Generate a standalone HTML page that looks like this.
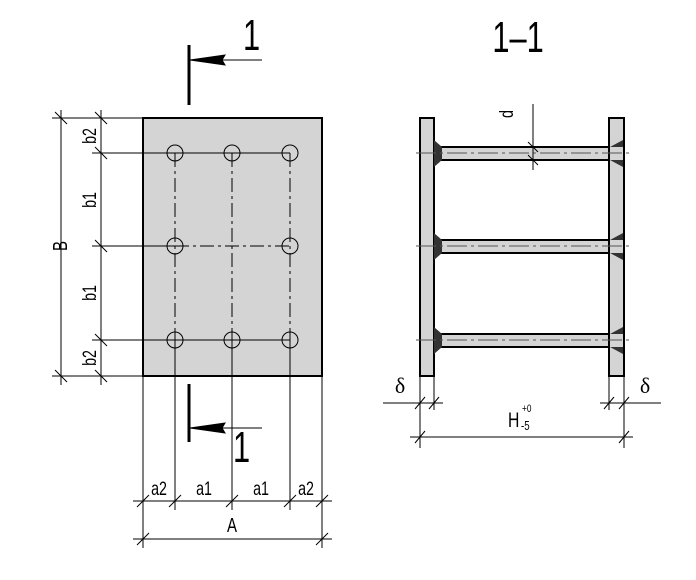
<!DOCTYPE html>
<html><head><style>body{margin:0;background:#fff}svg{display:block}</style></head><body>
<svg width="696" height="580" viewBox="0 0 696 580" xmlns="http://www.w3.org/2000/svg" font-family="Liberation Sans, sans-serif">
<g stroke="#000" fill="none" stroke-width="1">
<rect x="143" y="118" width="179" height="258" fill="#d4d4d4" stroke-width="2"/>
<line x1="92" y1="153" x2="290" y2="153"/>
<line x1="92" y1="246" x2="175" y2="246"/>
<line x1="175" y1="246" x2="290" y2="246" stroke-dasharray="14,4,3,4"/>
<line x1="92" y1="340" x2="290" y2="340"/>
<line x1="175" y1="153" x2="175" y2="340" stroke-dasharray="14,4,3,4"/>
<line x1="232" y1="153" x2="232" y2="340" stroke-dasharray="14,4,3,4"/>
<line x1="290" y1="153" x2="290" y2="340" stroke-dasharray="14,4,3,4"/>
<circle cx="175" cy="153" r="8"/><circle cx="232" cy="153" r="8"/><circle cx="290" cy="153" r="8"/>
<circle cx="175" cy="246" r="8"/><circle cx="290" cy="246" r="8"/>
<circle cx="175" cy="340" r="8"/><circle cx="232" cy="340" r="8"/><circle cx="290" cy="340" r="8"/>
<line x1="52" y1="118" x2="143" y2="118"/>
<line x1="52" y1="376" x2="143" y2="376"/>
<line x1="61" y1="110" x2="61" y2="385"/>
<line x1="101" y1="110" x2="101" y2="385"/>
<line x1="55" y1="112" x2="67" y2="124"/><line x1="55" y1="370" x2="67" y2="382"/>
<line x1="95" y1="112" x2="107" y2="124"/><line x1="95" y1="147" x2="107" y2="159"/>
<line x1="95" y1="240" x2="107" y2="252"/><line x1="95" y1="334" x2="107" y2="346"/>
<line x1="95" y1="370" x2="107" y2="382"/>
<line x1="143" y1="376" x2="143" y2="548"/>
<line x1="175" y1="340" x2="175" y2="510"/>
<line x1="232" y1="340" x2="232" y2="510"/>
<line x1="290" y1="340" x2="290" y2="510"/>
<line x1="322" y1="376" x2="322" y2="548"/>
<line x1="133" y1="501" x2="332" y2="501"/>
<line x1="133" y1="539" x2="332" y2="539"/>
<line x1="137" y1="507" x2="149" y2="495"/><line x1="169" y1="507" x2="181" y2="495"/>
<line x1="226" y1="507" x2="238" y2="495"/><line x1="284" y1="507" x2="296" y2="495"/>
<line x1="316" y1="507" x2="328" y2="495"/>
<line x1="137" y1="545" x2="149" y2="533"/><line x1="316" y1="545" x2="328" y2="533"/>
<line x1="189" y1="45" x2="189" y2="105" stroke-width="3"/>
<line x1="200" y1="60" x2="262" y2="60"/>
<polygon points="190,60 225,55 222,60 225,65" fill="#000"/>
<line x1="189" y1="384" x2="189" y2="442" stroke-width="3"/>
<line x1="200" y1="428" x2="262" y2="428"/>
<polygon points="190,428 225,423 222,428 225,433" fill="#000"/>
<g fill="#d4d4d4" stroke-width="2">
<rect x="434" y="147" width="176" height="13"/>
<rect x="434" y="240" width="176" height="13"/>
<rect x="434" y="334" width="176" height="13"/>
<rect x="420" y="118" width="14" height="258"/>
<rect x="609" y="118" width="15" height="258"/>
</g>
<g fill="#333" stroke="none">
<polygon points="434,140 442,147 442,160 434,167"/>
<polygon points="434,233 442,240 442,253 434,260"/>
<polygon points="434,327 442,334 442,347 434,354"/>
<polygon points="623,140 610,147 623,147"/><polygon points="623,167 610,160 623,160"/>
<polygon points="623,233 610,240 623,240"/><polygon points="623,260 610,253 623,253"/>
<polygon points="623,327 610,334 623,334"/><polygon points="623,354 610,347 623,347"/>
</g>
<g stroke="#555">
<line x1="416" y1="153" x2="632" y2="153" stroke-dasharray="20,4,3,4"/>
<line x1="416" y1="246" x2="632" y2="246" stroke-dasharray="20,4,3,4"/>
<line x1="416" y1="340" x2="632" y2="340" stroke-dasharray="20,4,3,4"/>
</g>
<line x1="533" y1="104" x2="533" y2="170"/>
<line x1="528" y1="142" x2="538" y2="152"/><line x1="528" y1="155" x2="538" y2="165"/>
<line x1="420" y1="376" x2="420" y2="448"/>
<line x1="434" y1="376" x2="434" y2="410"/>
<line x1="609" y1="376" x2="609" y2="410"/>
<line x1="624" y1="376" x2="624" y2="448"/>
<line x1="383" y1="403" x2="443" y2="403"/>
<line x1="600" y1="403" x2="661" y2="403"/>
<line x1="415" y1="409" x2="425" y2="397"/><line x1="429" y1="409" x2="439" y2="397"/>
<line x1="604" y1="409" x2="614" y2="397"/><line x1="619" y1="409" x2="629" y2="397"/>
<line x1="410" y1="437" x2="633" y2="437"/>
<line x1="415" y1="443" x2="425" y2="431"/><line x1="619" y1="443" x2="629" y2="431"/>
</g>
<g fill="#000" font-size="19">
<text transform="translate(67,246) rotate(-90) scale(0.75,1)" text-anchor="middle" font-size="20">B</text>
<text transform="translate(96,136) rotate(-90) scale(0.75,1)" text-anchor="middle">b2</text>
<text transform="translate(96,200) rotate(-90) scale(0.75,1)" text-anchor="middle">b1</text>
<text transform="translate(96,293) rotate(-90) scale(0.75,1)" text-anchor="middle">b1</text>
<text transform="translate(96,358) rotate(-90) scale(0.75,1)" text-anchor="middle">b2</text>
<text transform="translate(159,495) scale(0.75,1)" text-anchor="middle">a2</text>
<text transform="translate(204,495) scale(0.75,1)" text-anchor="middle">a1</text>
<text transform="translate(261,495) scale(0.75,1)" text-anchor="middle">a1</text>
<text transform="translate(306,495) scale(0.75,1)" text-anchor="middle">a2</text>
<text transform="translate(232,532) scale(0.75,1)" text-anchor="middle" font-size="20">A</text>
<text transform="translate(243,50) scale(0.7,1)" font-size="44">1</text>
<text transform="translate(233,462) scale(0.7,1)" font-size="44">1</text>
<text transform="translate(518,52) scale(0.7,1)" font-size="44" text-anchor="middle">1–1</text>
<text transform="translate(513,118) rotate(-90) scale(0.75,1)" font-size="19">d</text>
<text x="400" y="393" font-size="22" text-anchor="middle" font-family="Liberation Serif, serif">δ</text>
<text x="645" y="393" font-size="22" text-anchor="middle" font-family="Liberation Serif, serif">δ</text>
<text transform="translate(508,427) scale(0.75,1)" font-size="21">H</text>
<text transform="translate(522,412) scale(0.75,1)" font-size="11">+0</text>
<text transform="translate(521,430) scale(0.75,1)" font-size="13">-5</text>
</g>
</svg>
</body></html>
